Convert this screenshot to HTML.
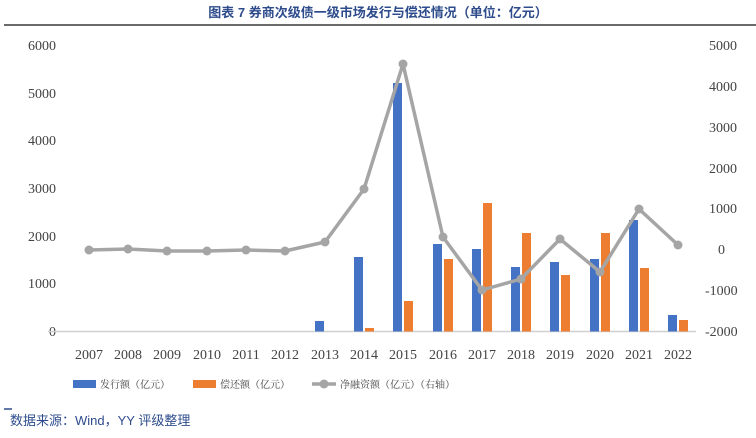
<!DOCTYPE html>
<html><head><meta charset="utf-8"><style>
body{margin:0;background:#fff;width:756px;height:433px;overflow:hidden;}
.s{font-family:"Liberation Serif","Noto Serif CJK SC",serif;}
.c{font-family:"Noto Serif CJK SC","Liberation Serif",serif;}
.h{font-family:"Liberation Sans","Noto Sans CJK SC",sans-serif;}
</style></head><body>
<svg width="756" height="433" xmlns="http://www.w3.org/2000/svg">
<rect width="756" height="433" fill="#fff"/>
<text class="h" x="378" y="17" text-anchor="middle" font-weight="bold" font-size="13" fill="#2E4C8C">图表 7 券商次级债一级市场发行与偿还情况（单位：亿元）</text>
<line x1="4" y1="25" x2="756" y2="25" stroke="#111" stroke-width="1.2"/>
<g class="s" font-size="14" fill="#444">
<g text-anchor="end">
<text x="56" y="50">6000</text><text x="56" y="98">5000</text><text x="56" y="145">4000</text><text x="56" y="193">3000</text><text x="56" y="241">2000</text><text x="56" y="288">1000</text><text x="56" y="336">0</text>
</g>
<text x="709" y="50">5000</text><text x="709" y="91">4000</text><text x="709" y="132">3000</text><text x="709" y="173">2000</text><text x="709" y="213">1000</text><text x="718" y="254">0</text><text x="705" y="295">-1000</text><text x="705" y="336">-2000</text>
<g text-anchor="middle">
<text x="89" y="359">2007</text><text x="128" y="359">2008</text><text x="167" y="359">2009</text><text x="207" y="359">2010</text><text x="246" y="359">2011</text><text x="285" y="359">2012</text><text x="325" y="359">2013</text><text x="364" y="359">2014</text><text x="403" y="359">2015</text><text x="443" y="359">2016</text><text x="482" y="359">2017</text><text x="521" y="359">2018</text><text x="560" y="359">2019</text><text x="600" y="359">2020</text><text x="639" y="359">2021</text><text x="678" y="359">2022</text>
</g></g>
<line x1="48" y1="331.5" x2="696" y2="331.5" stroke="#d0d0d0" stroke-width="1.5"/>
<g fill="#4472C4">
<rect x="315" y="321" width="9" height="10.5"/><rect x="354" y="257" width="9" height="74.5"/><rect x="393" y="83" width="9" height="248.5"/><rect x="433" y="244" width="9" height="87.5"/><rect x="472" y="249" width="9" height="82.5"/><rect x="511" y="267" width="9" height="64.5"/><rect x="550" y="262" width="9" height="69.5"/><rect x="590" y="259" width="9" height="72.5"/><rect x="629" y="220" width="9" height="111.5"/><rect x="668" y="315" width="9" height="16.5"/>
</g>
<g fill="#ED7D31">
<rect x="365" y="328" width="9" height="3.5"/><rect x="404" y="301" width="9" height="30.5"/><rect x="444" y="259" width="9" height="72.5"/><rect x="483" y="203" width="9" height="128.5"/><rect x="522" y="233" width="9" height="98.5"/><rect x="561" y="275" width="9" height="56.5"/><rect x="601" y="233" width="9" height="98.5"/><rect x="640" y="268" width="9" height="63.5"/><rect x="679" y="320" width="9" height="11.5"/>
</g>
<polyline fill="none" stroke="#A5A5A5" stroke-width="3.5" stroke-linejoin="round" points="89,250 128,249 167,251 207,251 246,250 285,251 325,242 364,189 403,64 443,237 482,290 521,279 560,239 600,272 639,209 678,245"/>
<g fill="#A5A5A5">
<circle cx="89" cy="250" r="4.5"/><circle cx="128" cy="249" r="4.5"/><circle cx="167" cy="251" r="4.5"/><circle cx="207" cy="251" r="4.5"/><circle cx="246" cy="250" r="4.5"/><circle cx="285" cy="251" r="4.5"/><circle cx="325" cy="242" r="4.5"/><circle cx="364" cy="189" r="4.5"/><circle cx="403" cy="64" r="4.5"/><circle cx="443" cy="237" r="4.5"/><circle cx="482" cy="290" r="4.5"/><circle cx="521" cy="279" r="4.5"/><circle cx="560" cy="239" r="4.5"/><circle cx="600" cy="272" r="4.5"/><circle cx="639" cy="209" r="4.5"/><circle cx="678" cy="245" r="4.5"/>
</g>
<rect x="73" y="380" width="23" height="8" fill="#4472C4"/>
<rect x="193" y="380" width="23" height="8" fill="#ED7D31"/>
<line x1="312" y1="384" x2="336" y2="384" stroke="#A5A5A5" stroke-width="3.5"/><circle cx="324" cy="384" r="4.5" fill="#A5A5A5"/>
<g class="c" font-size="10" fill="#444">
<text x="100" y="388">发行额（亿元）</text><text x="220" y="388">偿还额（亿元）</text><text x="340" y="388">净融资额（亿元）（右轴）</text>
</g>
<line x1="4" y1="409" x2="12" y2="409" stroke="#2E4C8C" stroke-width="1.5"/>
<text class="h" x="10" y="425" font-size="13" fill="#2E4C8C">数据来源：Wind，YY 评级整理</text>
</svg>
</body></html>
